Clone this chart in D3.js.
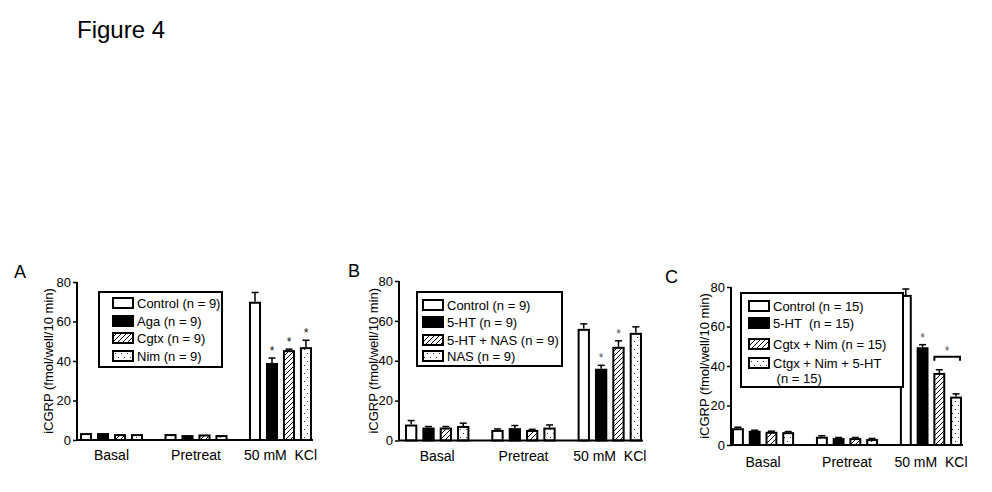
<!DOCTYPE html>
<html lang="en">
<head>
<meta charset="utf-8">
<title>Figure 4</title>
<script src="https://d3js.org/d3.v7.min.js"></script>
<style>
body { margin: 0; background: #fff; }
text { font-family: Arial, "Liberation Sans", sans-serif; fill: #000; }
</style>
</head>
<body>
<div id="fig"></div>
<script>
var groups = ["Basal", "Pretreat", "50 mM  KCl"];
var yTicks = [0, 20, 40, 60, 80];
var fills = ["white", "black", "url(#hatch)", "url(#dots)"];

// panel A
var seriesA = ["Control (n = 9)", "Aga (n = 9)", "Cgtx (n = 9)", "Nim (n = 9)"];
var meansA = [[3.5, 3, 70], [3.5, 2.5, 39], [3, 2.8, 45.5], [3, 2.5, 47]];
var errsA = [[0, 0, 4.7], [0, 0, 2.5], [0, 0, 0.5], [0, 0, 3.5]];
var starsA = [[2, 1], [2, 2], [2, 3]];

// panel B
var seriesB = ["Control (n = 9)", "5-HT (n = 9)", "5-HT + NAS (n = 9)", "NAS (n = 9)"];
var meansB = [[8, 5.3, 56], [6.5, 6.2, 36], [6.5, 5.3, 47], [7.3, 6.5, 54]];
var errsB = [[2, 0.5, 2.5], [0.5, 1.3, 1.7], [0.5, 0.3, 3], [1.4, 1.3, 3]];
var starsB = [[2, 1], [2, 2]];

// panel C
var seriesC = ["Control (n = 15)", "5-HT  (n = 15)", "Cgtx + Nim (n = 15)", "Ctgx + Nim + 5-HT\n (n = 15)"];
var meansC = [[8.5, 4.2, 76], [7.2, 3.5, 49.5], [6.7, 3.5, 36.5], [6.5, 3, 24.5]];
var errsC = [[0.5, 0.5, 3], [0.3, 0.3, 1.3], [0.3, 0.3, 1.6], [0.3, 0.3, 1.4]];
var starsC = [[2, 1]];
var bracketC = [2, 2, 3];

var svg = d3.select("#fig").append("svg")
    .attr("width", 992)
    .attr("height", 492);

var defs = svg.append("defs");
var hatch = defs.append("pattern")
    .attr("id", "hatch")
    .attr("patternUnits", "userSpaceOnUse")
    .attr("width", 5).attr("height", 5);
hatch.append("rect").attr("width", 5).attr("height", 5).attr("fill", "white");
hatch.append("path")
    .attr("d", "M-1,1 l2,-2 M0,5 l5,-5 M4,6 l2,-2")
    .attr("stroke", "black").attr("stroke-width", 1);

var dots = defs.append("pattern")
    .attr("id", "dots")
    .attr("patternUnits", "userSpaceOnUse")
    .attr("width", 6).attr("height", 8);
dots.append("rect").attr("width", 6).attr("height", 8).attr("fill", "white");
dots.append("rect").attr("x", 1).attr("y", 1).attr("width", 1).attr("height", 1).attr("fill", "#333");
dots.append("rect").attr("x", 4).attr("y", 5).attr("width", 1).attr("height", 1).attr("fill", "#333");

svg.append("text")
    .attr("x", 77).attr("y", 38)
    .attr("font-size", 24)
    .text("Figure 4");

function drawPanel(p) {
    var g = svg.append("g");
    var y = d3.scaleLinear().domain([0, 80]).range([p.y0, p.y80]);
    var x = d3.scaleBand().domain(groups).range([p.x0, p.x1]).paddingInner(p.gpad);
    var xs = d3.scaleBand().domain(d3.range(p.series.length)).range([0, x.bandwidth()]).paddingInner(0.29);

    g.append("text")
        .attr("x", p.letterX).attr("y", p.y80 - 4)
        .attr("font-size", 18)
        .text(p.letter);

    // y axis
    var yAxis = d3.axisLeft(y).tickValues(yTicks).tickSize(4).tickPadding(2);
    var ya = g.append("g")
        .attr("transform", "translate(" + p.ax + ",0)")
        .call(yAxis);
    ya.select(".domain").attr("stroke-width", 2).attr("d", "M0," + p.y0 + "V" + p.y80);
    ya.selectAll(".tick line").attr("stroke-width", 1.5);
    ya.selectAll(".tick text").attr("font-size", 13).attr("font-family", "Arial, 'Liberation Sans', sans-serif");

    g.append("text")
        .attr("transform", "translate(" + (p.ax - p.labOff) + "," + ((p.y0 + p.y80) / 2) + ") rotate(-90)")
        .attr("text-anchor", "middle")
        .attr("font-size", 13)
        .text("iCGRP (fmol/well/10 min)");

    // bars
    p.series.forEach(function (s, si) {
        groups.forEach(function (grp, gi) {
            var bx = x(grp) + xs(si);
            var v = p.means[si][gi], e = p.errs[si][gi];
            if (e > 0) {
                var cx = bx + xs.bandwidth() / 2;
                g.append("line")
                    .attr("x1", cx).attr("x2", cx)
                    .attr("y1", y(v)).attr("y2", y(v + e))
                    .attr("stroke", "black").attr("stroke-width", 1.5);
                g.append("line")
                    .attr("x1", cx - 3.5).attr("x2", cx + 3.5)
                    .attr("y1", y(v + e)).attr("y2", y(v + e))
                    .attr("stroke", "black").attr("stroke-width", 1.5);
            }
            g.append("rect")
                .attr("x", bx + 1)
                .attr("y", y(v) + 1)
                .attr("width", xs.bandwidth() - 2)
                .attr("height", Math.max(0, y(0) - y(v) - 1))
                .attr("fill", fills[si])
                .attr("stroke", "black")
                .attr("stroke-width", 2);
        });
    });

    // x axis line
    g.append("line")
        .attr("x1", p.ax).attr("x2", p.x1 + 1)
        .attr("y1", p.y0).attr("y2", p.y0)
        .attr("stroke", "black").attr("stroke-width", 2);

    groups.forEach(function (grp) {
        g.append("text")
            .attr("x", x(grp) + x.bandwidth() / 2)
            .attr("y", p.y0 + p.catOff)
            .attr("text-anchor", "middle")
            .attr("font-size", 14)
            .style("white-space", "pre")
            .text(grp);
    });

    // significance stars
    p.stars.forEach(function (st) {
        var gi = st[0], si = st[1];
        var top = y(p.means[si][gi] + p.errs[si][gi]);
        g.append("text")
            .attr("x", x(groups[gi]) + xs(si) + xs.bandwidth() / 2)
            .attr("y", top - 3)
            .attr("text-anchor", "middle")
            .attr("font-size", 12)
            .style("fill", p.starColor)
            .text("*");
    });

    if (p.bracket) {
        var gi = p.bracket[0], a = p.bracket[1], b = p.bracket[2];
        var topA = y(p.means[a][gi] + p.errs[a][gi]);
        var by = topA - 13;
        var bx1 = x(groups[gi]) + xs(a) + 1, bx2 = x(groups[gi]) + xs(b) + xs.bandwidth() - 2;
        g.append("path")
            .attr("d", "M" + bx1 + "," + (by + 4) + "V" + by + "H" + bx2 + "V" + (by + 4))
            .attr("fill", "none").attr("stroke", "black").attr("stroke-width", 2);
        g.append("text")
            .attr("x", (bx1 + bx2) / 2).attr("y", by - 2)
            .attr("text-anchor", "middle")
            .attr("font-size", 12)
            .style("fill", p.starColor)
            .text("*");
    }

    // legend
    var lg = g.append("g");
    lg.append("rect")
        .attr("x", p.leg[0]).attr("y", p.leg[1])
        .attr("width", p.leg[2]).attr("height", p.leg[3])
        .attr("fill", "white").attr("stroke", "black").attr("stroke-width", 2);
    p.series.forEach(function (s, si) {
        var ry = p.leg[1] + p.rows[si];
        lg.append("rect")
            .attr("x", p.leg[0] + p.swOff).attr("y", ry - 5)
            .attr("width", 20).attr("height", 10)
            .attr("fill", fills[si]).attr("stroke", "black").attr("stroke-width", 2);
        var lines = s.split("\n");
        lines.forEach(function (ln, li) {
            lg.append("text")
                .attr("x", p.leg[0] + p.swOff + 24)
                .attr("y", ry + 5 + li * 15)
                .attr("font-size", 13)
                .style("white-space", "pre")
                .text(ln);
        });
    });
}

drawPanel({
    letter: "A", letterX: 14,
    series: seriesA, means: meansA, errs: errsA, stars: starsA,
    ax: 77, x0: 80, x1: 312, gpad: 0.254,
    y0: 440, y80: 282, labOff: 24, catOff: 20,
    leg: [99, 292, 123, 75], swOff: 14, rows: [11, 29, 46, 64],
    starColor: "#111"
});

drawPanel({
    letter: "B", letterX: 348,
    series: seriesB, means: meansB, errs: errsB, stars: starsB,
    ax: 399, x0: 405, x1: 642, gpad: 0.254,
    y0: 440.5, y80: 281, labOff: 21, catOff: 20,
    leg: [417, 292, 145, 74], swOff: 6, rows: [13, 30, 48, 64],
    starColor: "#556"
});

drawPanel({
    letter: "C", letterX: 665,
    series: seriesC, means: meansC, errs: errsC, stars: starsC, bracket: bracketC,
    ax: 731, x0: 732, x1: 962, gpad: 0.26,
    y0: 445, y80: 287, labOff: 22, catOff: 22,
    leg: [741, 293, 162, 94], swOff: 8, rows: [13, 30, 51, 70],
    starColor: "#556"
});
</script>
</body>
</html>
